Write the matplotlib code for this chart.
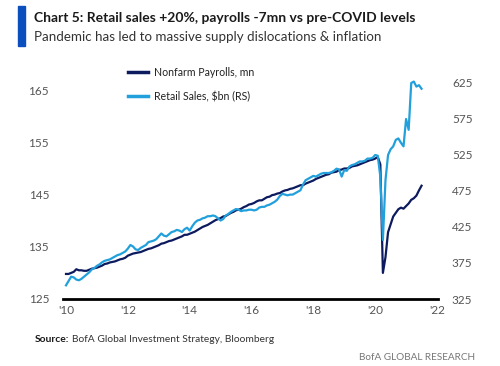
import numpy as np
import matplotlib.pyplot as plt
from matplotlib.lines import Line2D

plt.rcParams['font.family'] = ['Lato', 'DejaVu Sans']

# Nonfarm payrolls, mn (monthly, Jan 2010 - Jul 2021)
payrolls = [
    129.8, 129.8, 130.0, 130.2, 130.7, 130.5, 130.5, 130.4, 130.4, 130.6, 130.8, 130.9,
    131.0, 131.2, 131.4, 131.7, 131.8, 132.0, 132.1, 132.2, 132.4, 132.6, 132.7, 132.9,
    133.3, 133.5, 133.7, 133.8, 133.9, 134.0, 134.2, 134.4, 134.6, 134.7, 134.9, 135.1,
    135.3, 135.6, 135.7, 135.9, 136.1, 136.2, 136.4, 136.6, 136.8, 137.0, 137.3, 137.3,
    137.5, 137.7, 137.9, 138.2, 138.5, 138.8, 139.0, 139.2, 139.5, 139.8, 140.1, 140.3,
    140.5, 140.8, 140.9, 141.2, 141.5, 141.7, 142.0, 142.1, 142.3, 142.6, 142.8, 143.1,
    143.2, 143.4, 143.7, 143.9, 143.9, 144.2, 144.5, 144.6, 144.9, 145.0, 145.2, 145.3,
    145.6, 145.8, 145.9, 146.1, 146.2, 146.4, 146.6, 146.8, 146.8, 147.1, 147.3, 147.5,
    147.7, 148.0, 148.2, 148.4, 148.6, 148.8, 148.9, 149.2, 149.3, 149.4, 149.7, 149.8,
    150.0, 150.0, 150.1, 150.4, 150.5, 150.6, 150.8, 151.0, 151.2, 151.4, 151.6, 151.7,
    151.9, 152.2, 150.8, 130.0, 133.0, 137.8, 139.3, 140.8, 141.5, 142.2, 142.5, 142.3,
    142.8, 143.3, 144.0, 144.3, 144.8, 145.8, 146.7,
]

# Retail sales, $bn (monthly, Jan 2010 - Jul 2021)
retail = [
    344, 350, 356, 355, 352, 351, 353, 356, 359, 362, 366, 368,
    371, 373, 376, 378, 379, 380, 382, 384, 386, 387, 389, 391,
    395, 400, 398, 394, 393, 396, 398, 400, 404, 405, 406, 408,
    412, 416, 413, 412, 415, 418, 419, 421, 420, 418, 422, 424,
    420, 426, 431, 434, 435, 437, 438, 440, 440, 441, 440, 437,
    434, 436, 441, 443, 446, 448, 450, 449, 447, 448, 448, 449,
    449, 448, 449, 452, 453, 453, 455, 456, 458, 460, 463, 468,
    471, 470, 469, 470, 470, 472, 474, 476, 484, 490, 492, 494,
    496, 495, 497, 499, 500, 500, 500, 501, 503, 506, 505, 495,
    504, 503, 509, 511, 512, 514, 516, 516, 517, 520, 520, 521,
    525, 524, 495, 407, 490, 525, 533, 537, 546, 548, 542, 537,
    575, 560, 625, 627, 620, 622, 617,
]

years = 2010 + np.arange(len(payrolls)) / 12
x_ticks = [2010, 2012, 2014, 2016, 2018, 2020, 2022]
x_labels = ["'10", "'12", "'14", "'16", "'18", "'20", "'22"]
left_ticks = [125, 135, 145, 155, 165]
right_ticks = [325, 375, 425, 475, 525, 575, 625]

navy = '#0d1b5e'
cyan = '#21a0dc'
grey = '#555555'

fig = plt.figure(figsize=(5, 3.66), dpi=100)
ax = fig.add_axes([63 / 500, 1 - 299 / 366, 375 / 500, 224 / 366])
ax2 = ax.twinx()

ax.plot(years, payrolls, color=navy, lw=1.6, solid_joinstyle='round')
ax2.plot(years, retail, color=cyan, lw=1.6, solid_joinstyle='round')

ax.set_xlim(2010 - 3 / 30.9, 2022 + 1 / 30.9)
ax.set_ylim(125, 125 + 224 / 5.22)
ax2.set_ylim(325, 325 + 224 / 0.72)
ax.set_xticks(x_ticks, x_labels)
ax.set_yticks(left_ticks)
ax2.set_yticks(right_ticks)

for a in (ax, ax2):
    for s in a.spines.values():
        s.set_visible(False)
    a.tick_params(length=0, labelsize=8.5, labelcolor=grey)
ax.spines['bottom'].set_visible(True)
ax.spines['bottom'].set_linewidth(2)
ax.spines['bottom'].set_color('black')
ax.spines['bottom'].set_zorder(5)
ax.tick_params(axis='y', pad=10)
ax2.tick_params(axis='y', pad=10)
ax.tick_params(axis='x', pad=4)

handles = [Line2D([], [], color=navy, lw=2.5), Line2D([], [], color=cyan, lw=2.5)]
fig.legend(handles, ['Nonfarm Payrolls, mn', 'Retail Sales, $bn (RS)'],
           loc='upper left', bbox_to_anchor=(128 / 500, 1 - 67 / 366),
           frameon=False, fontsize=7.6, handlelength=1.9, handletextpad=0.6,
           labelspacing=1.2, borderaxespad=0, borderpad=0, labelcolor='#222222')

# header
fig.patches.append(plt.Rectangle((18 / 500, 1 - 46 / 366), 7 / 500, 40 / 366,
                                 transform=fig.transFigure, color='#0b4fbf'))
fig.text(34 / 500, 1 - 18 / 366, 'Chart 5: Retail sales +20%, payrolls -7mn vs pre-COVID levels',
         fontsize=10, fontweight='bold', color='#1a1a1a', va='center')
fig.text(34 / 500, 1 - 37 / 366, 'Pandemic has led to massive supply dislocations & inflation',
         fontsize=9.6, color='#333333', va='center')

# footer
fig.text(35 / 500, 1 - 339 / 366, 'Source:', fontsize=7.4, fontweight='bold',
         color='#1a1a1a', va='center')
fig.text(72 / 500, 1 - 339 / 366, 'BofA Global Investment Strategy, Bloomberg',
         fontsize=7.4, color='#333333', va='center')
fig.text(475 / 500, 1 - 358 / 366, 'BofA GLOBAL RESEARCH', fontsize=7.2,
         color='#777777', va='center', ha='right')

fig.savefig('out.png', dpi=100)
